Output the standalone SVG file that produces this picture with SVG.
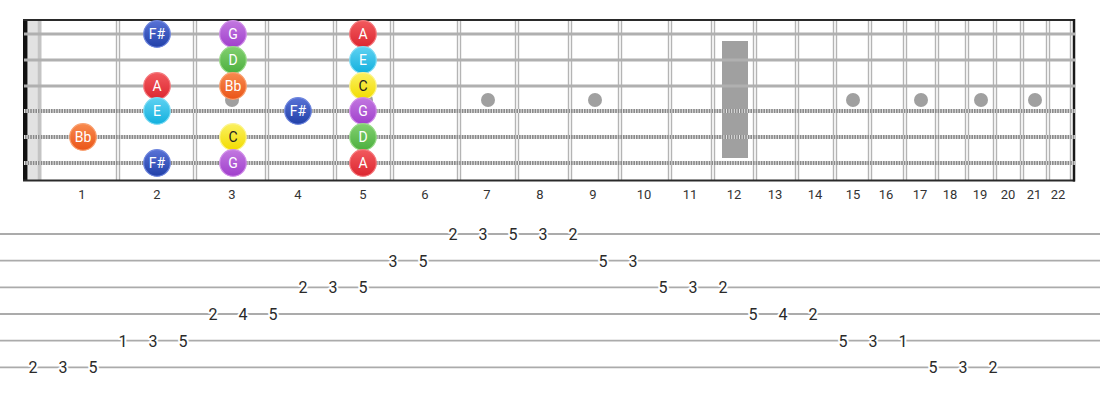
<svg xmlns="http://www.w3.org/2000/svg" width="1100" height="400" viewBox="0 0 1100 400">
<style>
.fret{stroke:#b4b4b4;stroke-width:1.4;fill:none}
.plain{stroke:#b0b0b0;stroke-width:3.2}
.woundA{stroke:#8a8a8a;stroke-width:4}
.woundB{stroke:#e4e4e4;stroke-width:4;stroke-dasharray:1 1.6}
.dot{fill:#a0a0a0}
.fn{font-family:Roboto,"Liberation Sans",sans-serif;font-size:13px;fill:#333;text-anchor:middle}
.nt{font-family:Roboto,"Liberation Sans",sans-serif;font-size:14px;fill:#fff;text-anchor:middle}
.ntd{fill:#222}
.tl{stroke:#ababab;stroke-width:1.8}
.td{font-family:Roboto,"Liberation Sans",sans-serif;font-size:16px;fill:#2a2a2a;text-anchor:middle;paint-order:stroke;stroke:#fff;stroke-width:4px;stroke-linejoin:round}
</style>
<defs>
<linearGradient id="gFs" x1="0" y1="0" x2="0" y2="1"><stop offset="0" stop-color="#5872d6"/><stop offset="1" stop-color="#2140a8"/></linearGradient>
<linearGradient id="gA" x1="0" y1="0" x2="0" y2="1"><stop offset="0" stop-color="#f25a5e"/><stop offset="1" stop-color="#dc2630"/></linearGradient>
<linearGradient id="gE" x1="0" y1="0" x2="0" y2="1"><stop offset="0" stop-color="#5fd2f2"/><stop offset="1" stop-color="#12b0de"/></linearGradient>
<linearGradient id="gBb" x1="0" y1="0" x2="0" y2="1"><stop offset="0" stop-color="#f88a4e"/><stop offset="1" stop-color="#ea5518"/></linearGradient>
<linearGradient id="gG" x1="0" y1="0" x2="0" y2="1"><stop offset="0" stop-color="#c278e0"/><stop offset="1" stop-color="#a03fcc"/></linearGradient>
<linearGradient id="gD" x1="0" y1="0" x2="0" y2="1"><stop offset="0" stop-color="#82d070"/><stop offset="1" stop-color="#4caf3e"/></linearGradient>
<linearGradient id="gC" x1="0" y1="0" x2="0" y2="1"><stop offset="0" stop-color="#fbf060"/><stop offset="1" stop-color="#f2dc00"/></linearGradient>
</defs>
<rect width="1100" height="400" fill="#fff"/>
<g id="fretboard">
<rect x="28" y="20" width="9.5" height="161" fill="#e2e2e2"/>
<rect x="37.5" y="20" width="4" height="161" fill="#c4c4c4"/>
<g id="frets">
<path class="fret" d="M116.5 20V181M119.5 20V181M193.5 20V181M196.5 20V181M265.5 20V181M268.5 20V181M333.5 20V181M336.5 20V181M390.5 20V181M393.5 20V181M457.5 20V181M460.5 20V181M515.5 20V181M518.5 20V181M568.5 20V181M571.5 20V181M618.5 20V181M621.5 20V181M668.5 20V181M671.5 20V181M711.5 20V181M714.5 20V181M753.5 20V181M756.5 20V181M795.5 20V181M798.5 20V181M833.5 20V181M836.5 20V181M868.5 20V181M871.5 20V181M903.5 20V181M906.5 20V181M935.5 20V181M938.5 20V181M965.5 20V181M968.5 20V181M993.5 20V181M996.5 20V181M1020.5 20V181M1023.5 20V181M1046.5 20V181M1049.5 20V181M1070.5 20V181"/>
</g>
<g id="markers">
<circle class="dot" cx="232" cy="100" r="7"/>
<circle class="dot" cx="366" cy="100" r="7"/>
<circle class="dot" cx="488" cy="100" r="7"/>
<circle class="dot" cx="595" cy="100" r="7"/>
<rect class="dot" x="722" y="41" width="26" height="117"/>
<circle class="dot" cx="853" cy="100" r="7"/>
<circle class="dot" cx="921" cy="100" r="7"/>
<circle class="dot" cx="981" cy="100" r="7"/>
<circle class="dot" cx="1035" cy="100" r="7"/>
</g>
<rect x="23" y="20" width="4.5" height="161" fill="#111"/>
<line x1="23" y1="20" x2="1075" y2="20" stroke="#2a2a2a" stroke-width="2"/>
<line x1="23" y1="180.5" x2="1075" y2="180.5" stroke="#2a2a2a" stroke-width="2"/>
<line x1="1074" y1="19" x2="1074" y2="181.5" stroke="#1a1a1a" stroke-width="2.5"/>
<g id="strings">
<line class="plain" x1="24" y1="34" x2="1075" y2="34"/>
<line class="plain" x1="24" y1="60" x2="1075" y2="60"/>
<line class="plain" x1="24" y1="86" x2="1075" y2="86"/>
<line class="woundA" x1="24" y1="111" x2="1075" y2="111"/>
<line class="woundB" x1="24" y1="111" x2="1075" y2="111"/>
<line class="woundA" x1="24" y1="137" x2="1075" y2="137"/>
<line class="woundB" x1="24" y1="137" x2="1075" y2="137"/>
<line class="woundA" x1="24" y1="163" x2="1075" y2="163"/>
<line class="woundB" x1="24" y1="163" x2="1075" y2="163"/>
</g>
</g>
<g id="fret-numbers">
<text class="fn" x="82" y="199">1</text>
<text class="fn" x="157" y="199">2</text>
<text class="fn" x="232" y="199">3</text>
<text class="fn" x="298" y="199">4</text>
<text class="fn" x="363" y="199">5</text>
<text class="fn" x="425" y="199">6</text>
<text class="fn" x="487" y="199">7</text>
<text class="fn" x="540" y="199">8</text>
<text class="fn" x="593" y="199">9</text>
<text class="fn" x="644" y="199">10</text>
<text class="fn" x="690" y="199">11</text>
<text class="fn" x="734" y="199">12</text>
<text class="fn" x="775" y="199">13</text>
<text class="fn" x="815" y="199">14</text>
<text class="fn" x="853" y="199">15</text>
<text class="fn" x="886" y="199">16</text>
<text class="fn" x="920" y="199">17</text>
<text class="fn" x="950" y="199">18</text>
<text class="fn" x="980" y="199">19</text>
<text class="fn" x="1008" y="199">20</text>
<text class="fn" x="1034" y="199">21</text>
<text class="fn" x="1058" y="199">22</text>
</g>
<g id="connectors"></g>
<g id="notes">
<g id="n-s1-f2"><circle cx="157" cy="34" r="13.3" fill="url(#gFs)" stroke="#6e86de" stroke-width="1.2"/><text class="nt" x="157" y="39">F#</text></g>
<g id="n-s1-f3"><circle cx="233" cy="34" r="13.3" fill="url(#gG)" stroke="#d08ee8" stroke-width="1.2"/><text class="nt" x="233" y="39">G</text></g>
<g id="n-s1-f5"><circle cx="363" cy="34" r="13.3" fill="url(#gA)" stroke="#f47a7e" stroke-width="1.2"/><text class="nt" x="363" y="39">A</text></g>
<g id="n-s2-f3"><circle cx="233" cy="60" r="13.3" fill="url(#gD)" stroke="#98da88" stroke-width="1.2"/><text class="nt" x="233" y="65">D</text></g>
<g id="n-s2-f5"><circle cx="363" cy="60" r="13.3" fill="url(#gE)" stroke="#7fdcf4" stroke-width="1.2"/><text class="nt" x="363" y="65">E</text></g>
<g id="n-s3-f2"><circle cx="157" cy="86" r="13.3" fill="url(#gA)" stroke="#f47a7e" stroke-width="1.2"/><text class="nt" x="157" y="91">A</text></g>
<g id="n-s3-f3"><circle cx="233" cy="86" r="13.3" fill="url(#gBb)" stroke="#f9a070" stroke-width="1.2"/><text class="nt" x="233" y="91">Bb</text></g>
<g id="n-s3-f5"><circle cx="363" cy="86" r="13.3" fill="url(#gC)" stroke="#fcf490" stroke-width="1.2"/><text class="nt ntd" x="363" y="91">C</text></g>
<g id="n-s4-f2"><circle cx="157" cy="111" r="13.3" fill="url(#gE)" stroke="#7fdcf4" stroke-width="1.2"/><text class="nt" x="157" y="116">E</text></g>
<g id="n-s4-f4"><circle cx="298" cy="111" r="13.3" fill="url(#gFs)" stroke="#6e86de" stroke-width="1.2"/><text class="nt" x="298" y="116">F#</text></g>
<g id="n-s4-f5"><circle cx="363" cy="111" r="13.3" fill="url(#gG)" stroke="#d08ee8" stroke-width="1.2"/><text class="nt" x="363" y="116">G</text></g>
<g id="n-s5-f1"><circle cx="83" cy="137" r="13.3" fill="url(#gBb)" stroke="#f9a070" stroke-width="1.2"/><text class="nt" x="83" y="142">Bb</text></g>
<g id="n-s5-f3"><circle cx="233" cy="137" r="13.3" fill="url(#gC)" stroke="#fcf490" stroke-width="1.2"/><text class="nt ntd" x="233" y="142">C</text></g>
<g id="n-s5-f5"><circle cx="363" cy="137" r="13.3" fill="url(#gD)" stroke="#98da88" stroke-width="1.2"/><text class="nt" x="363" y="142">D</text></g>
<g id="n-s6-f2"><circle cx="157" cy="163" r="13.3" fill="url(#gFs)" stroke="#6e86de" stroke-width="1.2"/><text class="nt" x="157" y="168">F#</text></g>
<g id="n-s6-f3"><circle cx="233" cy="163" r="13.3" fill="url(#gG)" stroke="#d08ee8" stroke-width="1.2"/><text class="nt" x="233" y="168">G</text></g>
<g id="n-s6-f5"><circle cx="363" cy="163" r="13.3" fill="url(#gA)" stroke="#f47a7e" stroke-width="1.2"/><text class="nt" x="363" y="168">A</text></g>
</g>
<g id="tab">
<line class="tl" x1="0" y1="234" x2="1100" y2="234"/>
<line class="tl" x1="0" y1="260.7" x2="1100" y2="260.7"/>
<line class="tl" x1="0" y1="287.3" x2="1100" y2="287.3"/>
<line class="tl" x1="0" y1="314" x2="1100" y2="314"/>
<line class="tl" x1="0" y1="340.7" x2="1100" y2="340.7"/>
<line class="tl" x1="0" y1="367.3" x2="1100" y2="367.3"/>
<g id="tab-digits">
<text class="td" x="453" y="240">2</text><text class="td" x="483" y="240">3</text><text class="td" x="513" y="240">5</text><text class="td" x="543" y="240">3</text><text class="td" x="573" y="240">2</text>
<text class="td" x="393" y="266.7">3</text><text class="td" x="423" y="266.7">5</text><text class="td" x="603" y="266.7">5</text><text class="td" x="633" y="266.7">3</text>
<text class="td" x="303" y="293.3">2</text><text class="td" x="333" y="293.3">3</text><text class="td" x="363" y="293.3">5</text><text class="td" x="663" y="293.3">5</text><text class="td" x="693" y="293.3">3</text><text class="td" x="723" y="293.3">2</text>
<text class="td" x="213" y="320">2</text><text class="td" x="243" y="320">4</text><text class="td" x="273" y="320">5</text><text class="td" x="753" y="320">5</text><text class="td" x="783" y="320">4</text><text class="td" x="813" y="320">2</text>
<text class="td" x="123" y="346.7">1</text><text class="td" x="153" y="346.7">3</text><text class="td" x="183" y="346.7">5</text><text class="td" x="843" y="346.7">5</text><text class="td" x="873" y="346.7">3</text><text class="td" x="903" y="346.7">1</text>
<text class="td" x="33" y="373.3">2</text><text class="td" x="63" y="373.3">3</text><text class="td" x="93" y="373.3">5</text><text class="td" x="933" y="373.3">5</text><text class="td" x="963" y="373.3">3</text><text class="td" x="993" y="373.3">2</text>
</g>
</g>
</svg>
